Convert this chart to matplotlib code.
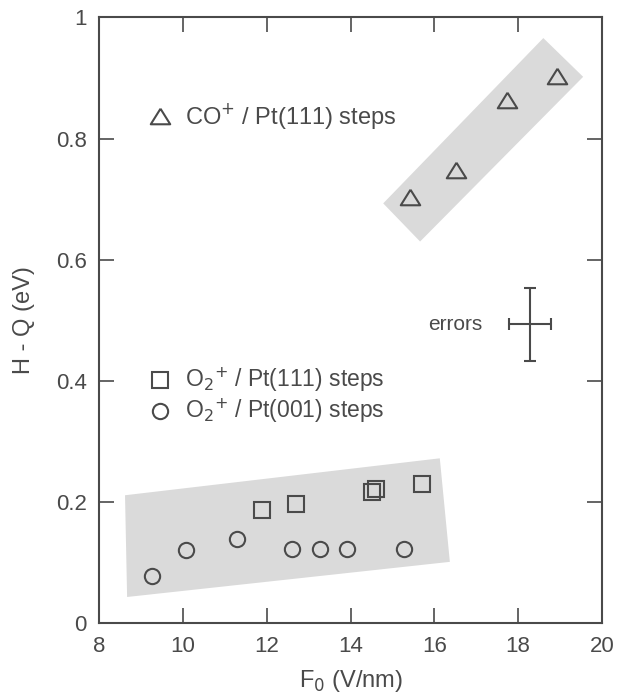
import matplotlib
matplotlib.use("Agg")
import matplotlib.pyplot as plt
from matplotlib.patches import Polygon

plt.rcParams['font.family'] = ['Liberation Sans', 'DejaVu Sans']

# CO+ / Pt(111) steps
co_x = [15.42, 16.52, 17.74, 18.92]
co_y = [0.704, 0.748, 0.864, 0.903]

# O2+ / Pt(111) steps
o111_x = [11.90, 12.69, 14.52, 14.60, 15.70]
o111_y = [0.187, 0.196, 0.217, 0.222, 0.229]

# O2+ / Pt(001) steps
o001_x = [9.27, 10.07, 11.30, 12.61, 13.28, 13.92, 15.27]
o001_y = [0.078, 0.121, 0.138, 0.122, 0.122, 0.122, 0.122]

# shaded bands (corners, data coords)
band_low = [(8.62, 0.211), (16.13, 0.272), (16.37, 0.101), (8.67, 0.043)]
band_high = [(18.60, 0.966), (19.55, 0.902), (15.66, 0.630), (14.78, 0.693)]

# error cross
err_x, err_y = 18.28, 0.493
err_dx, err_dy = 0.5, 0.06

xticks = [8, 10, 12, 14, 16, 18, 20]
yticks = [0, 0.2, 0.4, 0.6, 0.8, 1.0]
ytick_labels = ['0', '0.2', '0.4', '0.6', '0.8', '1']

ink = '#4a4a4a'
band_col = '#dadada'
tri = [(0, 0.8), (-1, -0.8), (1, -0.8), (0, 0.8)]

fig = plt.figure(figsize=(6.17, 6.99), dpi=100)
ax = fig.add_axes([0.1605, 0.1087, 0.8152, 0.8663])

for b in (band_low, band_high):
    ax.add_patch(Polygon(b, closed=True, facecolor=band_col, edgecolor='none', zorder=1))

mk = dict(linestyle='none', markerfacecolor='none', markeredgecolor=ink,
          markeredgewidth=1.5, zorder=3)
ax.plot(co_x, co_y, marker=tri, markersize=14, **mk)
ax.plot(o111_x, o111_y, marker='s', markersize=11, **mk)
ax.plot(o001_x, o001_y, marker='o', markersize=11, **mk)

ax.errorbar([err_x], [err_y], xerr=err_dx, yerr=err_dy, fmt='none',
            ecolor=ink, elinewidth=1.5, capsize=4, capthick=1.5, zorder=3)
ax.text(17.15, err_y, 'errors', fontsize=15, color=ink, ha='right', va='center')

# in-plot legend
lx, tx = 9.46, 10.05
ax.plot([lx], [0.837], marker=tri, markersize=14, **mk)
ax.text(tx, 0.837, r'CO$^{+}$ / Pt(111) steps', fontsize=17, color=ink, va='center')
ax.plot([lx], [0.401], marker='s', markersize=11, **mk)
ax.text(tx, 0.401, r'O$_2$$^{+}$ / Pt(111) steps', fontsize=16.5, color=ink, va='center')
ax.plot([lx], [0.350], marker='o', markersize=11, **mk)
ax.text(tx, 0.350, r'O$_2$$^{+}$ / Pt(001) steps', fontsize=16.5, color=ink, va='center')

ax.set_xlim(8, 20)
ax.set_ylim(0, 1)
ax.set_xticks(xticks)
ax.set_yticks(yticks)
ax.set_yticklabels(ytick_labels)
ax.tick_params(direction='in', length=11, width=1.2, color=ink, labelcolor=ink,
               labelsize=16, top=True, right=True, pad=9)
for s in ax.spines.values():
    s.set_color(ink)
    s.set_linewidth(1.5)

ax.set_xlabel(r'F$_0$ (V/nm)', fontsize=17, color=ink, labelpad=8)
ax.set_ylabel('H - Q (eV)', fontsize=17, color=ink, labelpad=15)

fig.savefig('out.png', dpi=100)
